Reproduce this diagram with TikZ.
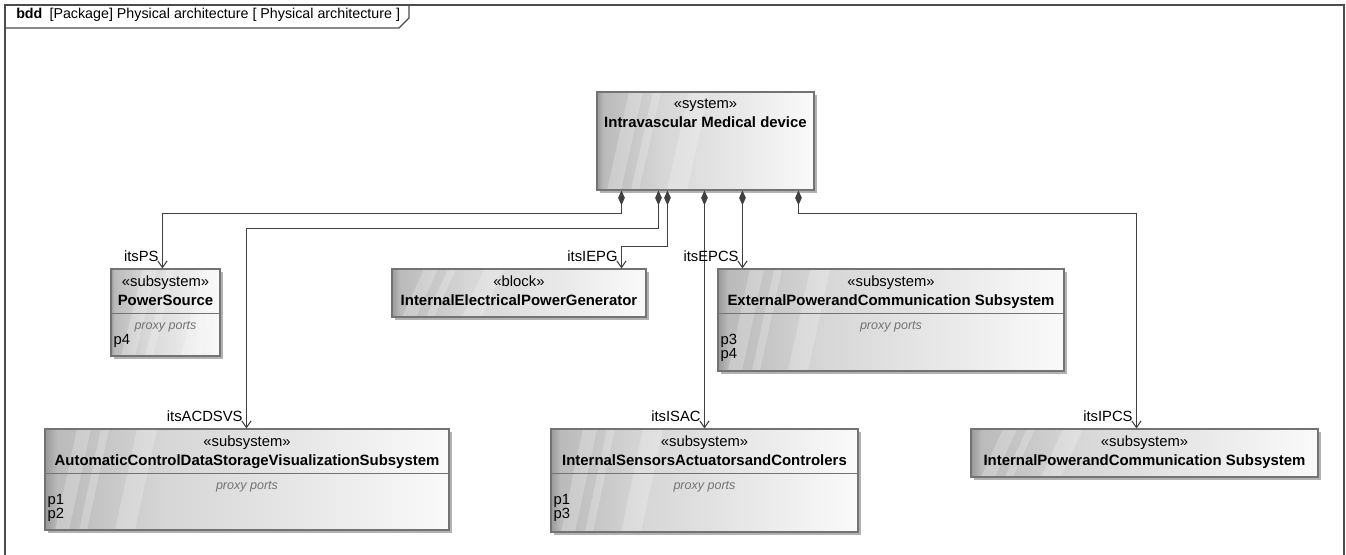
\documentclass[tikz,border=0pt]{standalone}
\usepackage{fontspec}
\setmainfont{Liberation Sans}
\usetikzlibrary{positioning,calc,fit,shadows,arrows.meta}

\pgfdeclarehorizontalshading{blockgrad}{100bp}{color(0bp)=(black!40); color(25bp)=(black!40); color(26.5bp)=(black!27); color(40bp)=(black!16); color(75bp)=(black!2); color(100bp)=(black!2)}

\tikzset{
  blk/.style={draw=black!55, line width=0.8pt, inner sep=0pt, shading=blockgrad,
    drop shadow={shadow xshift=2.5pt, shadow yshift=-2.5pt, fill=black!30, opacity=1},
    path picture={
      \foreach \o/\w in {10/14, 34/8, 70/20}
        \fill[white, opacity=0.22]
          ($(path picture bounding box.south west)+(\o,0)$) -- ++(\w,0)
          -- ($(path picture bounding box.north west)+(\o+\w+22,0)$) -- ++(-\w,0) -- cycle;
    }},
  stereo/.style={font=\fontsize{11.1}{13}\selectfont, inner sep=0pt, text height=8pt, text depth=2.5pt},
  blkname/.style={stereo, font=\fontsize{11.2}{13}\selectfont\bfseries},
  proxy/.style={stereo, font=\fontsize{9.4}{11}\selectfont\itshape, text=black!55},
  port/.style={stereo, anchor=west},
  role/.style={stereo, anchor=south east, xshift=-2.5pt, yshift=2.5pt},
  compline/.style={draw=black!55, line width=0.8pt},
  diagframe/.style={draw=black!70, line width=1pt},
  comp/.style={draw=black!75, line width=0.8pt,
    {Diamond[length=11pt,width=5pt]}-{Straight Barb[length=5pt,width=7pt]}},
}

\begin{document}
\begin{tikzpicture}[x=0.75pt,y=-0.75pt]
  \useasboundingbox (0,0) rectangle (1346,555);
  % frame and heading
  \draw[diagframe] (5,556) -- (5,5) -- (1344,5) -- (1344,556);
  \draw[diagframe] (5,28) -- (399,28) -- (409,18) -- (409,5);
  \node[stereo, anchor=west, font=\fontsize{10.7}{13}\selectfont] (hdr) at (16,15)
    {\textbf{bdd}\enspace[Package] Physical architecture [ Physical architecture ]};

  % blocks
  \node[blk, fit={(597,92) (814,190)}] (sys) {};
  \node[stereo] (sys-st) at ($(sys.north)+(0,13)$) {«system»};
  \node[blkname, below=3.75pt of sys-st] (sys-nm) {Intravascular Medical device};

  \node[blk, fit={(111,269) (220,356)}] (ps) {};
  \node[stereo] (ps-st) at ($(ps.north)+(0,14)$) {«subsystem»};
  \node[blkname, below=3.75pt of ps-st] (ps-nm) {PowerSource};
  \draw[compline] ($(ps.north west)+(0,45)$) -- ($(ps.north east)+(0,45)$);
  \node[proxy] (ps-px) at ($(ps.north)+(0,57)$) {proxy ports};
  \node[port] (ps-p4) at ($(ps.north west)+(3,72)$) {p4};

  \node[blk, fit={(392,269) (646,317)}] (iepg) {};
  \node[stereo] (iepg-st) at ($(iepg.north)+(0,14)$) {«block»};
  \node[blkname, below=3.75pt of iepg-st] (iepg-nm) {InternalElectricalPowerGenerator};

  \node[blk, fit={(718,269) (1064,371)}] (epcs) {};
  \node[stereo] (epcs-st) at ($(epcs.north)+(0,14)$) {«subsystem»};
  \node[blkname, below=3.75pt of epcs-st] (epcs-nm) {ExternalPowerandCommunication Subsystem};
  \draw[compline] ($(epcs.north west)+(0,45)$) -- ($(epcs.north east)+(0,45)$);
  \node[proxy] (epcs-px) at ($(epcs.north)+(0,57)$) {proxy ports};
  \node[port] (epcs-p3) at ($(epcs.north west)+(3,72)$) {p3};
  \node[port] (epcs-p4) at ($(epcs.north west)+(3,86)$) {p4};

  \node[blk, fit={(45,429) (449,530)}] (acd) {};
  \node[stereo] (acd-st) at ($(acd.north)+(0,14)$) {«subsystem»};
  \node[blkname, below=3.75pt of acd-st] (acd-nm) {AutomaticControlDataStorageVisualizationSubsystem};
  \draw[compline] ($(acd.north west)+(0,45)$) -- ($(acd.north east)+(0,45)$);
  \node[proxy] (acd-px) at ($(acd.north)+(0,57)$) {proxy ports};
  \node[port] (acd-p1) at ($(acd.north west)+(3,72)$) {p1};
  \node[port] (acd-p2) at ($(acd.north west)+(3,86)$) {p2};

  \node[blk, fit={(551,429) (858,532)}] (isac) {};
  \node[stereo] (isac-st) at ($(isac.north)+(0,14)$) {«subsystem»};
  \node[blkname, below=3.75pt of isac-st] (isac-nm) {InternalSensorsActuatorsandControlers};
  \draw[compline] ($(isac.north west)+(0,45)$) -- ($(isac.north east)+(0,45)$);
  \node[proxy] (isac-px) at ($(isac.north)+(0,57)$) {proxy ports};
  \node[port] (isac-p1) at ($(isac.north west)+(3,72)$) {p1};
  \node[port] (isac-p3) at ($(isac.north west)+(3,86)$) {p3};

  \node[blk, fit={(971,429) (1318,477)}] (ipcs) {};
  \node[stereo] (ipcs-st) at ($(ipcs.north)+(0,14)$) {«subsystem»};
  \node[blkname, below=3.75pt of ipcs-st] (ipcs-nm) {InternalPowerandCommunication Subsystem};

  % composition links
  \draw[comp] ($(sys.south west)+(25,0)$) -- ++(0,23) -| ($(ps.north west)+(52,0)$) node[role] {itsPS};
  \draw[comp] ($(sys.south west)+(62,0)$) -- ++(0,38) -| ($(acd.north west)+(202,0)$) node[role] {itsACDSVS};
  \draw[comp] ($(sys.south west)+(71,0)$) -- ++(0,56) -| ($(iepg.north west)+(230,0)$) node[role] {itsIEPG};
  \draw[comp] ($(sys.south west)+(108,0)$) -- ($(isac.north west)+(154,0)$) node[role] {itsISAC};
  \draw[comp] ($(sys.south west)+(146,0)$) -- ($(epcs.north west)+(25,0)$) node[role] {itsEPCS};
  \draw[comp] ($(sys.south west)+(202,0)$) -- ++(0,23) -| ($(ipcs.north west)+(166,0)$) node[role] {itsIPCS};
\end{tikzpicture}
\end{document}
